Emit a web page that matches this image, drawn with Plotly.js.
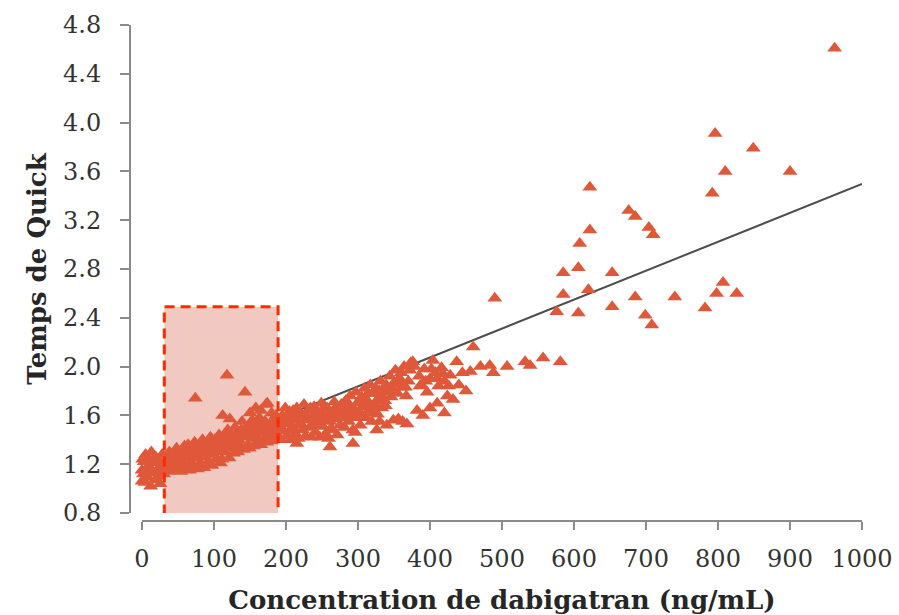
<!DOCTYPE html>
<html>
<head>
<meta charset="utf-8">
<script src="https://cdn.plot.ly/plotly-3.0.1.min.js"></script>
<style>html,body{margin:0;padding:0;background:#fff;}#chart{width:899px;height:615px;}</style>
</head>
<body>
<div id="chart"></div>
<script>
// Dabigatran concentration (ng/mL)
const concX = [
  0,0,1,2,3,4,5,6,8,9,10,12,13,14,16,18,19,21,22,24,25,27,28,30,31,
  33,35,36,38,40,41,43,45,46,48,50,52,54,55,57,59,
  61,63,64,66,68,70,72,73,75,77,79,81,83,84,86,88,90,92,94,95,97,99,101,103,105,107,109,
  111,113,115,117,119,121,123,125,127,129,131,133,135,137,139,141,143,145,147,149,
  151,153,155,157,159,161,163,165,167,169,171,173,175,177,179,181,183,185,187,189,
  74,118,143,174,112,122,150,158,165,172,180,186,
  191,193,195,197,199,201,203,205,207,209,211,213,215,217,219,221,223,225,227,229,
  231,233,235,237,239,241,243,245,247,249,251,253,255,257,259,261,263,265,267,269,
  271,273,275,277,279,
  281,283,285,287,289,291,293,295,297,299,301,303,305,307,309,311,313,315,317,319,
  321,323,325,327,329,331,333,335,337,339,
  293,261,215,296,326,330,340,
  342,344,346,349,352,355,358,361,364,367,370,373,376,385,388,392,396,400,404,408,
  412,416,420,424,428,432,437,440,445,450,456,460,
  349,362,382,368,390,400,410,420,356,
  470,483,488,507,532,539,557,581,
  490,576,585,585,606,606,608,620,622,622,653,653,676,685,685,699,704,710,708,740,
  782,792,796,798,807,810,826,849,900,962,
  42,47,53,58,62,67,71,76,80,85,89,93,98,102,106,110,
  114,118,122,126,130,134,138,142,146,150,154,158,162,166,170,174,178,182,186,190,
  194,198,202,206,210,214,218,222,226,230,234,238,242,246,250,254,258,262,266,270,274,278,
  282,286,290,294,298,302,306,310,314,318,322,326,330,334,338,
  348,354,360,366,372,378,386,394,402,410,418,426
];
// Temps de Quick (ratio)
const quickY = [
  1.15,1.06,1.24,1.12,1.22,1.05,1.28,1.16,1.09,1.25,1.18,1.02,1.30,1.13,1.21,1.07,1.26,1.15,1.10,1.23,1.04,1.18,1.28,1.12,1.20,
  1.15,1.24,1.14,1.30,1.19,1.15,1.27,1.21,1.15,1.33,1.17,1.25,1.14,1.30,1.20,1.35,
  1.16,1.26,1.36,1.15,1.22,1.32,1.18,1.38,1.27,1.16,1.35,1.21,1.30,1.40,1.17,1.26,1.37,1.22,1.31,1.42,1.19,1.28,1.40,1.24,1.33,1.44,1.21,
  1.24,1.41,1.30,1.36,1.48,1.25,1.33,1.43,1.29,1.50,1.38,1.30,1.46,1.34,1.55,1.32,1.42,1.50,1.36,1.33,
  1.45,1.56,1.35,1.41,1.52,1.37,1.58,1.36,1.47,1.40,1.55,1.38,1.44,1.52,1.39,1.50,1.40,1.46,1.54,1.42,
  1.74,1.93,1.79,1.70,1.60,1.57,1.62,1.66,1.64,1.69,1.62,1.60,
  1.52,1.40,1.60,1.47,1.66,1.43,1.55,1.63,1.40,1.50,1.58,1.45,1.66,1.41,1.53,1.61,1.48,1.69,1.43,1.56,
  1.64,1.50,1.42,1.59,1.67,1.46,1.54,1.62,1.42,1.70,1.51,1.58,1.45,1.66,1.41,1.55,1.62,1.48,1.71,1.57,
  1.44,1.64,1.52,1.69,1.59,
  1.50,1.72,1.62,1.55,1.76,1.66,1.48,1.58,1.79,1.70,1.63,1.52,1.75,1.67,1.82,1.58,1.72,1.64,1.85,1.55,
  1.78,1.69,1.82,1.61,1.74,1.88,1.66,1.79,1.72,1.85,
  1.37,1.34,1.37,1.46,1.48,1.55,1.52,
  1.80,1.92,1.75,1.86,1.97,1.78,1.90,1.83,2.00,1.76,1.88,2.03,2.04,1.92,1.85,1.98,1.79,1.90,2.05,1.95,
  1.84,1.99,1.88,1.76,1.93,1.73,2.04,1.85,1.95,1.80,1.96,2.16,
  1.56,1.55,1.64,1.53,1.60,1.66,1.70,1.62,1.57,
  2.00,2.01,1.95,2.00,2.04,2.01,2.07,2.04,
  2.56,2.45,2.59,2.77,2.81,2.44,3.01,2.63,3.12,3.47,2.77,2.49,3.28,3.23,2.57,2.42,3.14,3.08,2.34,2.57,
  2.48,3.42,3.91,2.60,2.69,3.60,2.60,3.79,3.60,4.61,
  1.22,1.28,1.19,1.26,1.31,1.28,1.25,1.33,1.28,1.34,1.30,1.36,1.34,1.31,1.38,1.35,
  1.37,1.45,1.39,1.36,1.44,1.40,1.48,1.45,1.43,1.52,1.48,1.44,1.50,1.53,1.46,1.49,1.45,1.56,1.51,1.48,
  1.56,1.53,1.60,1.48,1.64,1.56,1.60,1.52,1.60,1.58,1.66,1.52,1.62,1.57,1.62,1.67,1.60,1.49,1.63,1.67,1.58,1.62,
  1.66,1.70,1.60,1.65,1.62,1.72,1.60,1.70,1.78,1.68,1.62,1.72,1.80,1.75,1.68,
  1.82,1.88,1.95,1.83,1.97,2.00,1.84,1.88,1.98,1.90,1.94,1.84
];
// Linear trend line endpoints
const trendX = [0, 1000];
const trendY = [1.127, 3.497];
// Highlighted concentration window
const zoneX = [31, 189];
const zoneY = [0.73, 2.49];

const xTicks = [0,100,200,300,400,500,600,700,800,900,1000];
const yTicks = [0.8,1.2,1.6,2.0,2.4,2.8,3.2,3.6,4.0,4.4,4.8];

const tickFont = {family: 'DejaVu Serif', size: 24, color: '#333333'};
const titleFont = {family: 'DejaVu Serif', size: 26, color: '#262626', weight: 'bold'};

const traces = [
  {x: trendX, y: trendY, type: 'scatter', mode: 'lines',
   line: {color: '#4d4d4d', width: 2}, hoverinfo: 'skip', cliponaxis: false},
  {x: concX, y: quickY, type: 'scatter', mode: 'markers', cliponaxis: false,
   marker: {symbol: 'triangle-up', size: 13, color: 'rgb(224,88,58)', line: {width: 0}}}
];

const layout = {
  width: 899, height: 615,
  margin: {l: 130, r: 37, t: 25, b: 94},
  paper_bgcolor: '#ffffff', plot_bgcolor: '#ffffff',
  showlegend: false,
  xaxis: {
    range: [0, 1000], domain: [12/732, 1], anchor: 'free', position: 0,
    tickvals: xTicks, ticktext: xTicks.map(String),
    showgrid: false, zeroline: false,
    showline: true, linecolor: '#8a8a8a', linewidth: 2,
    ticks: 'outside', ticklen: 8, tickwidth: 2, tickcolor: '#8a8a8a',
    tickfont: tickFont, ticklabelstandoff: 8,
    title: {text: 'Concentration de dabigatran (ng/mL)', font: titleFont, standoff: 18}
  },
  yaxis: {
    range: [0.8, 4.8], domain: [8/496, 1], anchor: 'free', position: 0,
    tickvals: yTicks, ticktext: yTicks.map(v => v.toFixed(1)),
    showgrid: false, zeroline: false,
    showline: true, linecolor: '#8a8a8a', linewidth: 2,
    ticks: 'outside', ticklen: 9, tickwidth: 2, tickcolor: '#8a8a8a',
    tickfont: tickFont, ticklabelstandoff: 14,
    title: {text: 'Temps de Quick', font: titleFont, standoff: 8}
  },
  shapes: [
    {type: 'rect', xref: 'x', yref: 'y', x0: zoneX[0], x1: zoneX[1], y0: zoneY[0], y1: zoneY[1],
     fillcolor: '#f1c9c1', line: {width: 0}, layer: 'below'},
    {type: 'rect', xref: 'x', yref: 'y', x0: zoneX[0], x1: zoneX[1], y0: zoneY[0], y1: zoneY[1],
     fillcolor: 'rgba(0,0,0,0)', line: {color: '#ff2a00', width: 3, dash: '10px,6px'}, layer: 'above'}
  ]
};

Plotly.newPlot('chart', traces, layout, {staticPlot: true, displayModeBar: false});
</script>
</body>
</html>
